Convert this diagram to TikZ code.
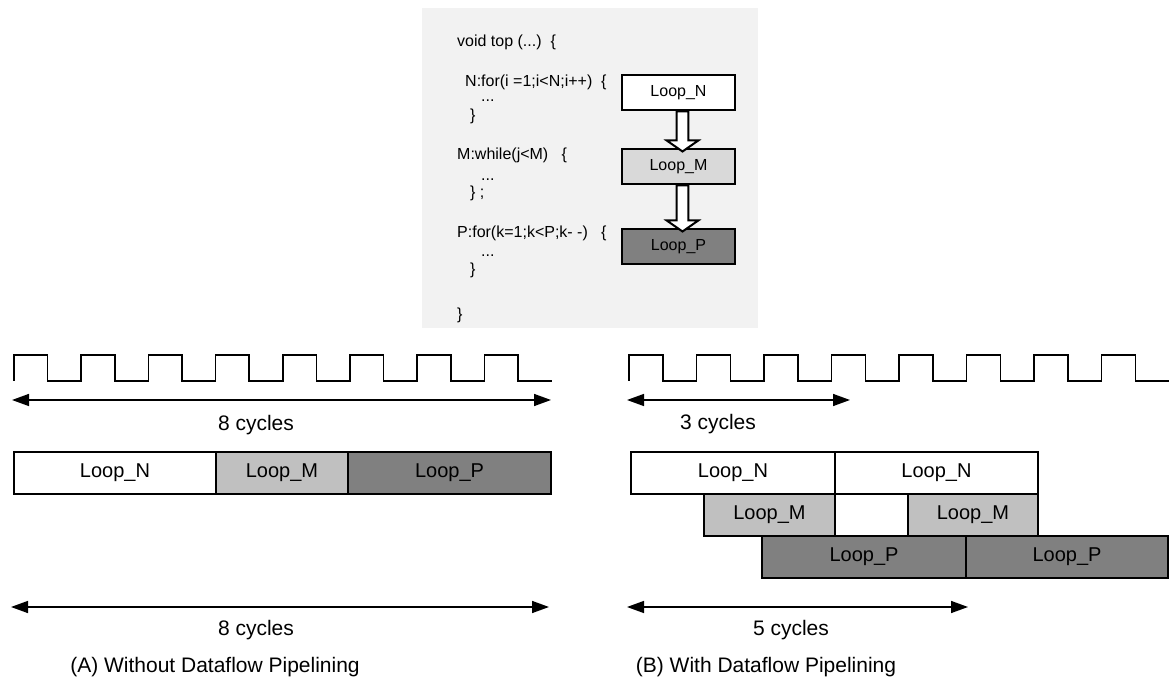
\documentclass[tikz,border=0pt]{standalone}
\usepackage{fontspec}
\setmainfont{Liberation Sans}
\usetikzlibrary{arrows.meta,calc}
\definecolor{codebg}{HTML}{F2F2F2}
\definecolor{paleloop}{HTML}{D9D9D9}
\definecolor{lightloop}{HTML}{C0C0C0}
\definecolor{darkloop}{HTML}{808080}
\begin{document}
\begin{tikzpicture}[x=1pt,y=-1pt,
    bar/.style={draw=black,line width=2pt,anchor=north west,minimum height=42pt,
      inner sep=0pt,outer sep=0pt,font=\fontsize{20}{24}\selectfont},
    smallbox/.style={draw=black,line width=2pt,minimum width=113pt,minimum height=35pt,
      inner sep=0pt,font=\fontsize{16}{19}\selectfont},
    code/.style={anchor=base west,inner sep=0pt,font=\fontsize{16}{19}\selectfont},
    lbl/.style={inner sep=0pt,font=\fontsize{21}{25}\selectfont},
    cyclearrow/.style={line width=1.5pt,{Triangle[length=17pt,width=12pt]}-{Triangle[length=17pt,width=12pt]}},
    clock/.style={line width=1.5pt},
    hollowarrow/.style={draw=black,fill=white,line width=2pt,line join=miter}]
    \useasboundingbox (0,0) rectangle (1171,684);
    % code of the top function
    \fill[codebg] (422,8) rectangle (758,328);
    \node[code] (c1) at (457,47) {void top (...)\ \ \{};
    \node[code] (c2) at (465,87) {N:for(i =1;i<N;i++)\ \ \{};
    \node[code] (c3) at (481,102) {...};
    \node[code] (c4) at (470,121) {\}};
    \node[code] (c5) at (457,160) {M:while(j<M)\ \ \ \{};
    \node[code] (c6) at (481,181) {...};
    \node[code] (c7) at (470,198) {\} ;};
    \node[code] (c8) at (457,238) {P:for(k=1;k<P;k- -)\ \ \ \{};
    \node[code] (c9) at (481,257) {...};
    \node[code] (c10) at (470,275) {\}};
    \node[code] (c11) at (457,320) {\}};
    \node[smallbox,fill=white] (lpN) at (678.5,93) {Loop\_N};
    \node[smallbox,fill=paleloop] (lpM) at (678.5,167) {Loop\_M};
    \node[smallbox,fill=darkloop] (lpP) at (678.5,247) {Loop\_P};
    \foreach \a/\b in {lpN/lpM,lpM/lpP}
        \draw[hollowarrow] ($(\a.south)+(-1.8,0)$) -- ($(\b.north)+(-1.8,-8)$) -- ($(\b.north)+(-11.8,-8)$)
            -- ($(\b.north)+(4,3)$) -- ($(\b.north)+(19.8,-8)$) -- ($(\b.north)+(9.8,-8)$)
            -- ($(\a.south)+(9.8,0)$) -- cycle;
    % (A) without dataflow
    \draw[clock] (14,381) \foreach \k in {0,...,7} {-- ++(0,-26) -- ++(33.6,0) -- ++(0,26) -- ++(33.6,0)};
    \coordinate (a1l) at (12,400);
    \coordinate (a1r) at (551,400);
    \draw[cyclearrow] (a1l) -- (a1r);
    \node[lbl] (a1t) at (256,425) {8 cycles};
    \node[bar,fill=white,minimum width=202pt] (wN) at (14,452) {Loop\_N};
    \node[bar,fill=lightloop,minimum width=132pt] (wM) at (216,452) {Loop\_M};
    \node[bar,fill=darkloop,minimum width=203pt] (wP) at (348,452) {Loop\_P};
    \coordinate (a2l) at (11,607);
    \coordinate (a2r) at (549,607);
    \draw[cyclearrow] (a2l) -- (a2r);
    \node[lbl] (a2t) at (256,630) {8 cycles};
    \node[lbl] (capA) at (215,667) {(A) Without Dataflow Pipelining};
    % (B) with dataflow
    \draw[clock] (629,381) \foreach \k in {0,...,7} {-- ++(0,-26) -- ++(33.75,0) -- ++(0,26) -- ++(33.75,0)};
    \coordinate (b1l) at (627,400);
    \coordinate (b1r) at (850,400);
    \draw[cyclearrow] (b1l) -- (b1r);
    \node[lbl] (b1t) at (718,424) {3 cycles};
    \node[bar,fill=white,minimum width=204pt] (pN1) at (631,452) {Loop\_N};
    \node[bar,fill=white,minimum width=203pt] (pN2) at (835,452) {Loop\_N};
    \node[bar,fill=lightloop,minimum width=131pt] (pM1) at (704,494) {Loop\_M};
    \node[bar,fill=lightloop,minimum width=130pt] (pM2) at (908,494) {Loop\_M};
    \node[bar,fill=darkloop,minimum width=204pt] (pP1) at (762,536) {Loop\_P};
    \node[bar,fill=darkloop,minimum width=202pt] (pP2) at (966,536) {Loop\_P};
    \coordinate (b2l) at (627,607);
    \coordinate (b2r) at (968,607);
    \draw[cyclearrow] (b2l) -- (b2r);
    \node[lbl] (b2t) at (791,630) {5 cycles};
    \node[lbl] (capB) at (766,667) {(B) With Dataflow Pipelining};
\end{tikzpicture}
\end{document}
